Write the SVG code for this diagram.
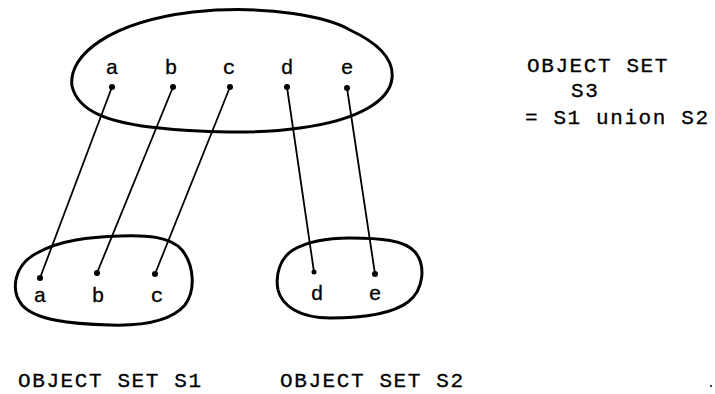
<svg xmlns="http://www.w3.org/2000/svg" width="715" height="394" viewBox="0 0 715 394">
  <style>
    .set { fill: none; stroke: #000; stroke-width: 3; stroke-linejoin: round; }
    .link { stroke: #000; stroke-width: 1.8; stroke-linecap: round; }
    .pt { fill: #000; }
    .lbl { font-family: "Liberation Mono", "Courier New", monospace; font-size: 21px; fill: #000; stroke: #000; stroke-width: 0.3; letter-spacing: 1.6px; }
    .el { font-family: "Liberation Mono", "Courier New", monospace; font-size: 21px; fill: #000; stroke: #000; stroke-width: 0.3; text-anchor: middle; }
  </style>
  <rect width="715" height="394" fill="#fff"/>

  <!-- connectors between elements of S3 and elements of S1 / S2 -->
  <g id="connectors">
    <line class="link" x1="112" y1="87" x2="40" y2="278"/>
    <line class="link" x1="173" y1="87" x2="97" y2="273"/>
    <line class="link" x1="230" y1="87" x2="155" y2="274"/>
    <line class="link" x1="287" y1="87" x2="314" y2="272"/>
    <line class="link" x1="347" y1="88" x2="375" y2="274"/>
  </g>

  <!-- object set S3 -->
  <g id="set-s3">
    <path class="set" d="M 72,86 C 68,55 110,22 193,12 C 270,4 330,18 350,30 C 380,44 394,60 392,78 C 390,100 360,120 300,128 C 260,134 200,133 150,127 C 110,122 78,112 72,86 Z"/>
    <text class="el" x="112" y="74">a</text>
    <text class="el" x="171" y="74">b</text>
    <text class="el" x="229" y="74">c</text>
    <text class="el" x="287" y="74">d</text>
    <text class="el" x="347" y="74">e</text>
    <circle class="pt" cx="112" cy="87" r="3"/>
    <circle class="pt" cx="173" cy="87" r="3"/>
    <circle class="pt" cx="230" cy="87" r="3"/>
    <circle class="pt" cx="287" cy="87" r="3"/>
    <circle class="pt" cx="347" cy="88" r="3"/>
  </g>

  <!-- object set S1 -->
  <g id="set-s1">
    <path class="set" d="M 37,253 C 60,240 90,237 120,236 C 145,235 170,236 182,250 C 194,265 196,290 185,305 C 170,322 140,326 110,325 C 70,324 35,320 22,305 C 10,290 14,265 37,253 Z"/>
    <text class="el" x="40" y="302">a</text>
    <text class="el" x="98" y="302">b</text>
    <text class="el" x="157" y="302">c</text>
    <circle class="pt" cx="40" cy="278" r="3"/>
    <circle class="pt" cx="97" cy="273" r="3"/>
    <circle class="pt" cx="155" cy="274" r="3"/>
  </g>

  <!-- object set S2 -->
  <g id="set-s2">
    <path class="set" d="M 293,250 C 310,240 330,238 350,238 C 380,238 405,240 415,252 C 426,265 424,290 408,302 C 392,314 360,318 330,318 C 300,318 282,306 278,290 C 275,275 280,258 293,250 Z"/>
    <text class="el" x="317" y="300">d</text>
    <text class="el" x="375" y="300">e</text>
    <circle class="pt" cx="314" cy="272" r="2.5"/>
    <circle class="pt" cx="375" cy="274" r="3"/>
  </g>

  <!-- captions -->
  <g id="captions">
    <text class="lbl" x="527" y="72">OBJECT SET</text>
    <text class="lbl" x="571" y="97">S3</text>
    <text class="lbl" x="525" y="124">= S1 union S2</text>
    <text class="lbl" x="18" y="387">OBJECT SET S1</text>
    <text class="lbl" x="280" y="387">OBJECT SET S2</text>
    <circle class="pt" cx="711" cy="386" r="1"/>
  </g>
</svg>
